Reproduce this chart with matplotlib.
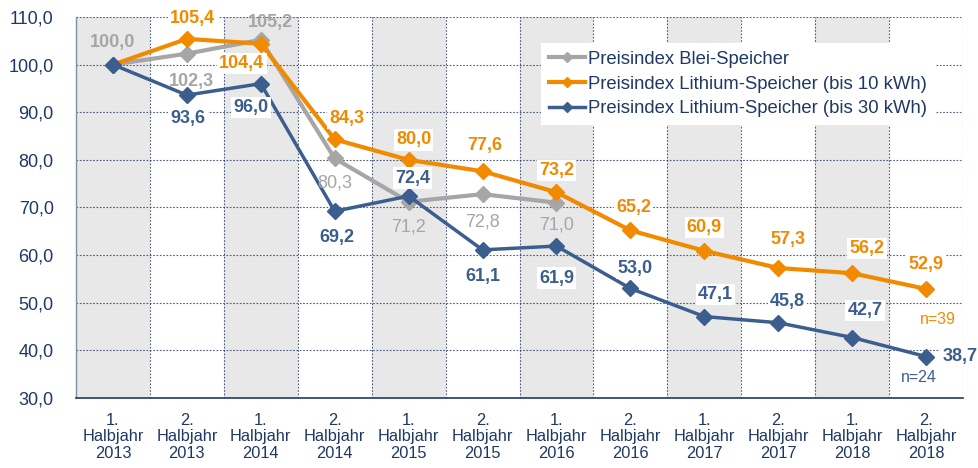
import matplotlib
matplotlib.use("Agg")
import matplotlib.pyplot as plt

plt.rcParams['font.family'] = ['Liberation Sans', 'DejaVu Sans']

categories = ["1.\nHalbjahr\n2013", "2.\nHalbjahr\n2013", "1.\nHalbjahr\n2014", "2.\nHalbjahr\n2014",
              "1.\nHalbjahr\n2015", "2.\nHalbjahr\n2015", "1.\nHalbjahr\n2016", "2.\nHalbjahr\n2016",
              "1.\nHalbjahr\n2017", "2.\nHalbjahr\n2017", "1.\nHalbjahr\n2018", "2.\nHalbjahr\n2018"]
blei = [100.0, 102.3, 105.2, 80.3, 71.2, 72.8, 71.0]
li10 = [100.0, 105.4, 104.4, 84.3, 80.0, 77.6, 73.2, 65.2, 60.9, 57.3, 56.2, 52.9]
li30 = [100.0, 93.6, 96.0, 69.2, 72.4, 61.1, 61.9, 53.0, 47.1, 45.8, 42.7, 38.7]
series_names = ["Preisindex Blei-Speicher",
                "Preisindex Lithium-Speicher (bis 10 kWh)",
                "Preisindex Lithium-Speicher (bis 30 kWh)"]
yticks = [30, 40, 50, 60, 70, 80, 90, 100, 110]

GRAY = '#A6A6A6'
ORANGE = '#F28A00'
BLUE = '#3B5E8E'
NAVY = '#1F3864'

fig = plt.figure(figsize=(9.79, 4.68), dpi=100)
ax = fig.add_axes([0.0776, 0.1496, 0.9061, 0.8141])

n = len(categories)
x = list(range(n))
ax.set_xlim(-0.5, n - 0.5)
ax.set_ylim(30, 110)

for i in range(0, n, 2):
    ax.axvspan(i - 0.5, i + 0.5, color='#E8E8E8', zorder=0, lw=0)
for b in range(n):
    ax.axvline(b + 0.5, color=NAVY, lw=0.8, ls=(0, (1.5, 1.5)), zorder=1, alpha=0.8)
for yv in yticks[1:]:
    ax.axhline(yv, color=NAVY, lw=0.8, ls=(0, (1.5, 1.5)), zorder=1, alpha=0.8)

ax.plot(x[:len(blei)], blei, color=GRAY, lw=3, marker='D', ms=8, zorder=3, label=series_names[0])
ax.plot(x, li10, color=ORANGE, lw=3, marker='D', ms=8, zorder=4, label=series_names[1])
ax.plot(x, li30, color=BLUE, lw=2.5, marker='D', ms=8, zorder=5, label=series_names[2])

def fmt(v):
    return f"{v:.1f}".replace('.', ',')

# label offsets in pixels (dx, dy)
off_blei = [(0, 22), (5, -28), (10, 17), (0, -25), (0, -25), (0, -28), (0, -22)]
bold_blei = [True, True, True, False, False, False, False]
off_li10 = [None, (6, 20), (-19, -20), (12, 21), (5, 20), (2, 26), (0, 22), (3, 23), (0, 23), (10, 28), (15, 25), (0, 24)]
off_li30 = [None, (1, -23), (-10, -24), (2, -26), (4, 18), (0, -27), (0, -32), (5, 20), (11, 22), (9, 21), (13, 27), (34, 0)]

LBL = 13
for i, (v, o) in enumerate(zip(blei, off_blei)):
    ax.annotate(fmt(v), (x[i], v), xytext=o, textcoords='offset pixels', ha='center', va='center',
                fontsize=LBL, fontweight='bold' if bold_blei[i] else 'normal', color=GRAY, zorder=6)
box = dict(boxstyle='square,pad=0.12', fc='white', ec='none')
for i, (v, o) in enumerate(zip(li10, off_li10)):
    if o is None:
        continue
    ax.annotate(fmt(v), (x[i], v), xytext=o, textcoords='offset pixels', ha='center', va='center',
                fontsize=LBL, fontweight='bold', color=ORANGE, bbox=box, zorder=6)
for i, (v, o) in enumerate(zip(li30, off_li30)):
    if o is None:
        continue
    ax.annotate(fmt(v), (x[i], v), xytext=o, textcoords='offset pixels', ha='center', va='center',
                fontsize=LBL, fontweight='bold', color=BLUE, bbox=box, zorder=6)

ax.annotate("n=39", (x[-1], li10[-1]), xytext=(12, -31), textcoords='offset pixels',
            ha='center', va='center', fontsize=11.5, color=ORANGE, zorder=6)
ax.annotate("n=24", (x[-1], li30[-1]), xytext=(-7, -21), textcoords='offset pixels',
            ha='center', va='center', fontsize=11.5, color=BLUE, zorder=6)

ax.set_xticks(x)
ax.set_xticklabels(categories, fontsize=11.8, color=NAVY, linespacing=1.1)
ax.set_yticks(yticks)
ax.set_yticklabels([fmt(v) for v in yticks], fontsize=13, color=NAVY)
ax.tick_params(axis='x', length=0, pad=11)
ax.tick_params(axis='y', length=0, pad=16)

for s in ['top', 'right']:
    ax.spines[s].set_visible(False)
ax.spines['left'].set_color('#7F8FA6')
ax.spines['left'].set_linewidth(1.0)
ax.spines['bottom'].set_color(NAVY)
ax.spines['bottom'].set_linewidth(1.2)

leg = ax.legend(loc='upper left', bbox_to_anchor=(0.514, 0.955), frameon=True, fancybox=False,
                fontsize=13.3, handlelength=2.0, handletextpad=0.15, borderpad=0.4,
                labelspacing=0.42, markerscale=0.6)
leg.get_frame().set_facecolor('white')
leg.get_frame().set_edgecolor('none')
leg.get_frame().set_alpha(1)
leg.set_zorder(7)
for t in leg.get_texts():
    t.set_color(NAVY)

fig.savefig("out.png", dpi=100)
